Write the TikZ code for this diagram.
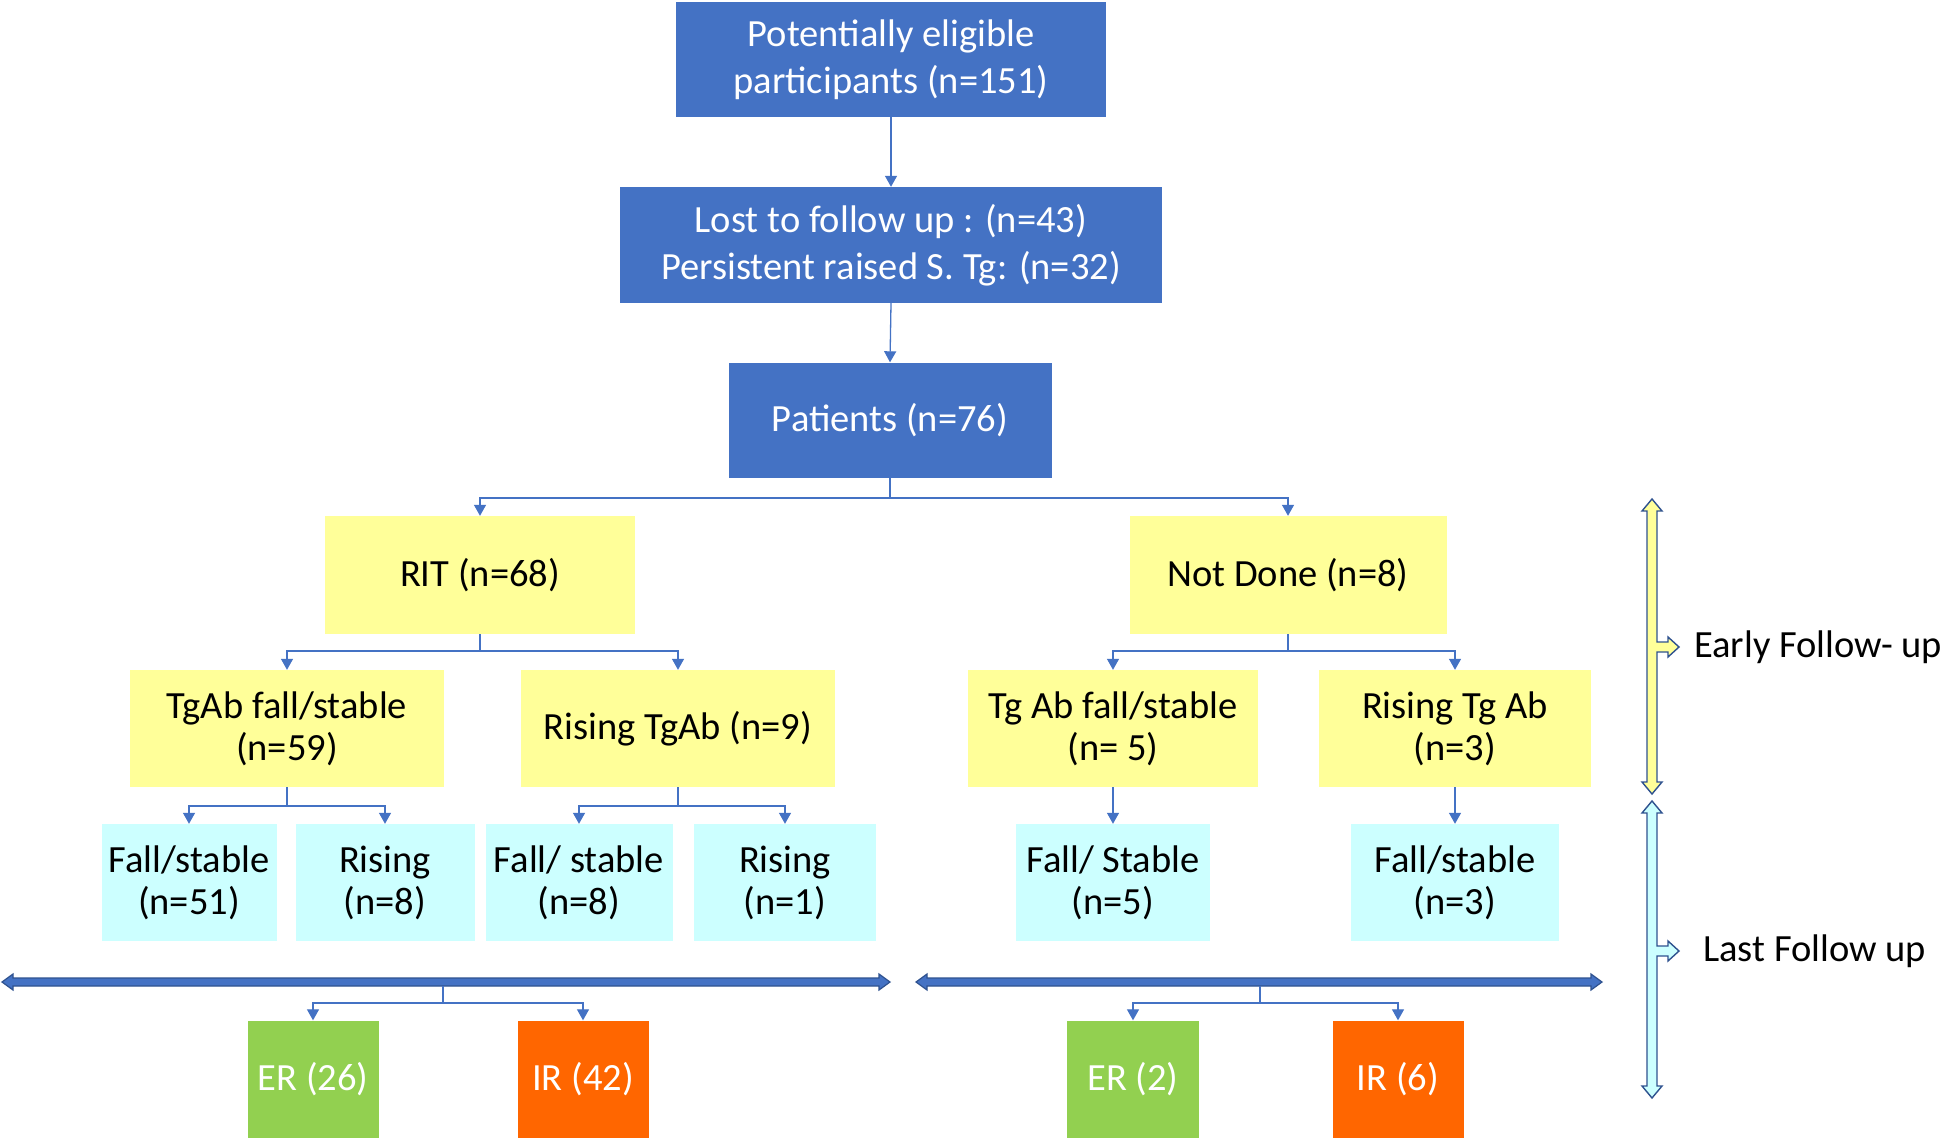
\documentclass[tikz,border=0pt]{standalone}
\usepackage{fontspec}
\setmainfont{Carlito}
\usetikzlibrary{arrows.meta,calc}
\definecolor{cblue}{HTML}{4472C4}
\definecolor{cborder}{HTML}{2F528F}
\definecolor{cyel}{HTML}{FFFF99}
\definecolor{ccyan}{HTML}{CCFFFF}
\definecolor{cgreen}{HTML}{92D050}
\definecolor{corange}{HTML}{FF6600}
\newcommand\blockH[4]{%
 \filldraw[fill=#4,draw=cborder,line width=1.2pt,line join=miter]
 (#1,#3) -- (#1+11,#3-8) -- (#1+11,#3-4) -- (#2-11,#3-4) -- (#2-11,#3-8) -- (#2,#3)
 -- (#2-11,#3+8) -- (#2-11,#3+4) -- (#1+11,#3+4) -- (#1+11,#3+8) -- cycle;}
\newcommand\blockV[5]{%
 \filldraw[fill=#5,draw=cborder,line width=1.4pt,line join=miter]
 (#1,#2) -- (#1+10,#2+12) -- (#1+5,#2+12) -- (#1+5,#4-5) -- (#1+16,#4-5) -- (#1+16,#4-10)
 -- (#1+27,#4) -- (#1+16,#4+10) -- (#1+16,#4+5) -- (#1+5,#4+5) -- (#1+5,#3-12)
 -- (#1+10,#3-12) -- (#1,#3) -- (#1-10,#3-12) -- (#1-5,#3-12) -- (#1-5,#2+12)
 -- (#1-10,#2+12) -- cycle;}
\begin{document}
\begin{tikzpicture}[x=1pt,y=-1pt,
  base/.style={rectangle,inner sep=0pt,align=center,font=\fontsize{38.5}{42}\selectfont},
  bluebox/.style={base,fill=cblue,text=white,font=\fontsize{38.5}{47}\selectfont},
  yelbox/.style={base,fill=cyel,text=black},
  cyanbox/.style={base,fill=ccyan,text=black},
  greenbox/.style={base,fill=cgreen,text=white},
  orangebox/.style={base,fill=corange,text=white},
  conn/.style={draw=cblue,line width=1.3pt,-{Triangle[width=12pt,length=11pt]}},
  plain/.style={draw=cblue,line width=1.3pt}]
\useasboundingbox[fill=white] (0,0) rectangle (1946,1140);

% blue boxes
\node[bluebox,minimum width=430pt,minimum height=115pt] (top) at (891,59.5) {Potentially eligible\\participants (n=151)};
\node[bluebox,minimum width=542pt,minimum height=116pt] (lost) at (891,245) {Lost to follow up : (n=43)\\Persistent raised S. Tg: (n=32)};
\node[bluebox,minimum width=323pt,minimum height=115pt] (pat) at (890,420) {Patients (n=76)};

% level 1
\node[yelbox,minimum width=310pt,minimum height=118pt] (rit) at (480,575) {RIT (n=68)};
\node[yelbox,minimum width=317pt,minimum height=118pt] (nd) at (1288,575) {Not Done (n=8)};

% level 2
\node[yelbox,minimum width=314pt,minimum height=117pt] (tfs) at (287,728.5) {TgAb fall/stable\\(n=59)};
\node[yelbox,minimum width=314pt,minimum height=117pt] (rt) at (678,728.5) {Rising TgAb (n=9)};
\node[yelbox,minimum width=290pt,minimum height=117pt] (tfs2) at (1113,728.5) {Tg Ab fall/stable\\(n= 5)};
\node[yelbox,minimum width=272pt,minimum height=117pt] (rt2) at (1455,728.5) {Rising Tg Ab\\(n=3)};

% level 3
\node[cyanbox,minimum width=175pt,minimum height=117pt] (a1) at (189,882.5) {Fall/stable\\(n=51)};
\node[cyanbox,minimum width=179pt,minimum height=117pt] (a2) at (385,882.5) {Rising\\(n=8)};
\node[cyanbox,minimum width=187pt,minimum height=117pt] (a3) at (579,882.5) {Fall/ stable\\(n=8)};
\node[cyanbox,minimum width=182pt,minimum height=117pt] (a4) at (785,882.5) {Rising\\(n=1)};
\node[cyanbox,minimum width=194pt,minimum height=117pt] (a5) at (1113,882.5) {Fall/ Stable\\(n=5)};
\node[cyanbox,minimum width=208pt,minimum height=117pt] (a6) at (1455,882.5) {Fall/stable\\(n=3)};

% outcomes
\node[greenbox,minimum width=131pt,minimum height=117pt] (er1) at (313,1079) {ER (26)};
\node[orangebox,minimum width=131pt,minimum height=117pt] (ir1) at (583,1079) {IR (42)};
\node[greenbox,minimum width=132pt,minimum height=117pt] (er2) at (1133,1079) {ER (2)};
\node[orangebox,minimum width=131pt,minimum height=117pt] (ir2) at (1398,1079) {IR (6)};

% connectors
\draw[conn] (top.south) -- (lost.north);
\draw[conn] (lost.south) -- (pat.north);

\coordinate (j0) at (pat.south |- 0,498);
\draw[plain] (pat.south) -- (j0);
\draw[conn] (j0) -| (rit.north);
\draw[conn] (j0) -| (nd.north);

\coordinate (j1) at (rit.south |- 0,651);
\draw[plain] (rit.south) -- (j1);
\draw[conn] (j1) -| (tfs.north);
\draw[conn] (j1) -| (rt.north);

\coordinate (j2) at (nd.south |- 0,651);
\draw[plain] (nd.south) -- (j2);
\draw[conn] (j2) -| (tfs2.north);
\draw[conn] (j2) -| (rt2.north);

\coordinate (j3) at (tfs.south |- 0,806);
\draw[plain] (tfs.south) -- (j3);
\draw[conn] (j3) -| (a1.north);
\draw[conn] (j3) -| (a2.north);

\coordinate (j4) at (rt.south |- 0,806);
\draw[plain] (rt.south) -- (j4);
\draw[conn] (j4) -| (a3.north);
\draw[conn] (j4) -| (a4.north);

\draw[conn] (tfs2.south) -- (a5.north);
\draw[conn] (rt2.south) -- (a6.north);

% horizontal double arrows
\blockH{2}{890}{982}{cblue}
\blockH{916}{1602}{982}{cblue}

\coordinate (b1) at (443,986);
\coordinate (k1) at (443,1003);
\draw[plain] (b1) -- (k1);
\draw[conn] (k1) -| (er1.north);
\draw[conn] (k1) -| (ir1.north);

\coordinate (b2) at (1260,986);
\coordinate (k2) at (1260,1003);
\draw[plain] (b2) -- (k2);
\draw[conn] (k2) -| (er2.north);
\draw[conn] (k2) -| (ir2.north);

% follow-up brackets
\blockV{1652}{499}{794}{647}{cyel}
\blockV{1652}{801}{1098}{951}{ccyan}
\node[anchor=west,inner sep=0pt,font=\fontsize{38.5}{42}\selectfont] (early) at (1694,647) {Early Follow- up};
\node[anchor=west,inner sep=0pt,font=\fontsize{38.5}{42}\selectfont] (last) at (1703,951) {Last Follow up};
\end{tikzpicture}
\end{document}
